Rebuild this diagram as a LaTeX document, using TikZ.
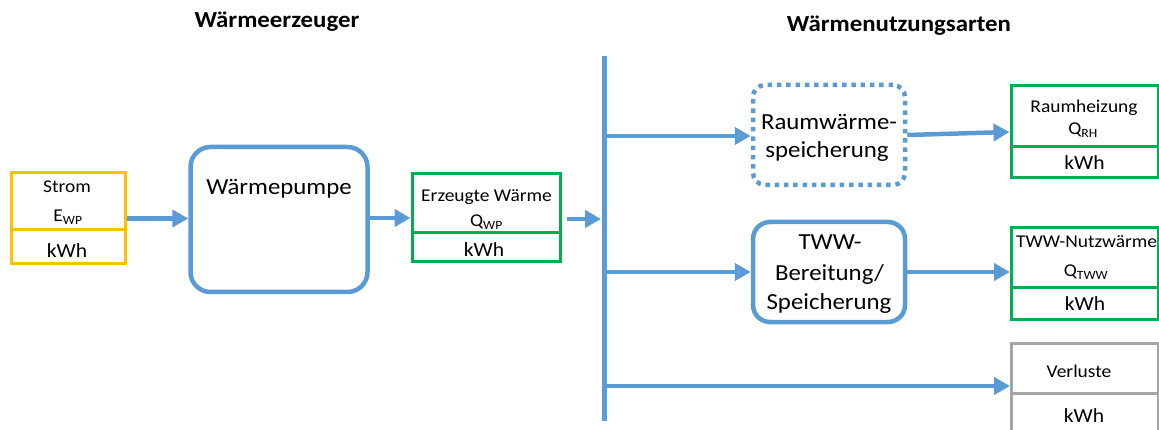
\documentclass[tikz,border=0pt]{standalone}
\usepackage{fontspec}
\setmainfont{Carlito}[FakeStretch=1.08]
\usetikzlibrary{arrows.meta}
\definecolor{wblue}{HTML}{5B9BD5}
\definecolor{wyellow}{HTML}{FFC000}
\definecolor{wgreen}{HTML}{00B050}
\definecolor{wgray}{HTML}{A5A5A5}
\tikzset{
  ybox/.style={draw=wyellow, line width=3pt, inner sep=0pt},
  gbox/.style={draw=wgreen, line width=3pt, inner sep=0pt},
  greybox/.style={draw=wgray, line width=3pt, inner sep=0pt},
  procbox/.style={draw=wblue, line width=4.5pt, rounded corners=20pt, inner sep=0pt},
  dotbox/.style={draw=wblue, line width=4.5pt, rounded corners=12pt, inner sep=0pt, dash pattern=on 4.5pt off 4.8pt},
  flow/.style={draw=wblue, line width=4.5pt, -{Triangle[length=16pt,width=17pt]}},
  bar/.style={draw=wblue, line width=5pt},
  small/.style={font=\fontsize{18}{21}\selectfont, inner sep=0pt, anchor=base},
  unit/.style={font=\fontsize{20}{22}\selectfont, inner sep=0pt, anchor=base},
  big/.style={font=\fontsize{23}{28}\selectfont, inner sep=0pt, anchor=base},
  title/.style={font=\fontsize{23}{26}\selectfont\bfseries, inner sep=0pt, anchor=base},
}
\begin{document}
\begin{tikzpicture}[x=1pt,y=-1pt]
\useasboundingbox (0,0) rectangle (1159,430);
\clip (0,0) rectangle (1159,430);
% titles
\node[title] (t1) at (277,28) {Wärmeerzeuger};
\node[title] (t2) at (899,32) {Wärmenutzungsarten};
% Strom
\node[ybox, minimum width=114pt, minimum height=91pt] (strom) at (68,218.5) {};
\draw[wyellow, line width=3pt] (strom.west |- 0,230) -- (strom.east |- 0,230);
\node[small] (stromt) at (67,193) {Strom};
\node[small] (stromq) at (68,222) {E\textsubscript{WP}};
\node[unit] (stromk) at (67,258) {kWh};
% Waermepumpe
\node[procbox, minimum width=177pt, minimum height=145pt] (wp) at (279,219.5) {};
\node[big] (wpt) at (279,195) {Wärmepumpe};
% Erzeugte Waerme
\node[gbox, minimum width=148pt, minimum height=88pt] (ew) at (486,218) {};
\draw[wgreen, line width=3pt] (ew.west |- 0,233) -- (ew.east |- 0,233);
\node[small] (ewt) at (486.5,202) {Erzeugte Wärme};
\node[small] (ewq) at (486.5,227) {Q\textsubscript{WP}};
\node[unit] (ewk) at (484,257) {kWh};
% bar
\coordinate (bartop) at (604.5,56);
\coordinate (barbot) at (604.5,421);
\draw[bar] (bartop) -- (barbot);
\coordinate (inA) at (567,219);
\coordinate (inB) at (601,219);
\coordinate (b1) at (604.5,136);
\coordinate (b2) at (604.5,272);
\coordinate (b3) at (604.5,386);
% Raumwaerme
\node[dotbox, minimum width=152pt, minimum height=100pt] (rw) at (829,135) {};
\node[big] (rwt1) at (829,130) {Raumwärme-};
\node[big] (rwt2) at (827,158) {speicherung};
% TWW
\node[procbox, rounded corners=17pt, minimum width=152pt, minimum height=100pt] (tww) at (829,272) {};
\node[big] (twwt1) at (830,250) {TWW-};
\node[big] (twwt2) at (829.5,280) {Bereitung/};
\node[big] (twwt3) at (829,309) {Speicherung};
% Raumheizung
\node[gbox, minimum width=147pt, minimum height=92pt] (rh) at (1084.5,132) {};
\draw[wgreen, line width=3pt] (rh.west |- 0,146.5) -- (rh.east |- 0,146.5);
\node[small] (rht) at (1084,113) {Raumheizung};
\node[small] (rhq) at (1083,135) {Q\textsubscript{RH}};
\node[unit] (rhk) at (1084.5,170) {kWh};
% TWW-Nutzwaerme
\node[gbox, minimum width=147pt, minimum height=91pt] (nw) at (1085,273.5) {};
\draw[wgreen, line width=3pt] (nw.west |- 0,288) -- (nw.east |- 0,288);
\node[small, anchor=base west] (nwt) at (1016,248) {TWW-Nutzwärme};
\node[small] (nwq) at (1086,277) {Q\textsubscript{TWW}};
\node[unit] (nwk) at (1085,310) {kWh};
% Verluste
\node[greybox, minimum width=147pt, minimum height=100pt] (vl) at (1085,393) {};
\draw[wgray, line width=3pt] (vl.west |- 0,393) -- (vl.east |- 0,393);
\node[small] (vlt) at (1079,377) {Verluste};
\node[unit] (vlk) at (1084,422) {kWh};
% flows
\draw[flow] (strom.east) -- (strom.east -| wp.west);
\draw[flow] (wp.east |- ew.west) -- (ew.west);
\draw[flow] (inA) -- (inB);
\draw[flow] (b1) -- (b1 -| rw.west);
\draw[flow] (b2) -- (tww.west);
\draw[flow] (b3) -- (b3 -| vl.west);
\draw[flow] (rw.east) -- (rh.west);
\draw[flow] (tww.east) -- (tww.east -| nw.west);
\end{tikzpicture}
\end{document}
